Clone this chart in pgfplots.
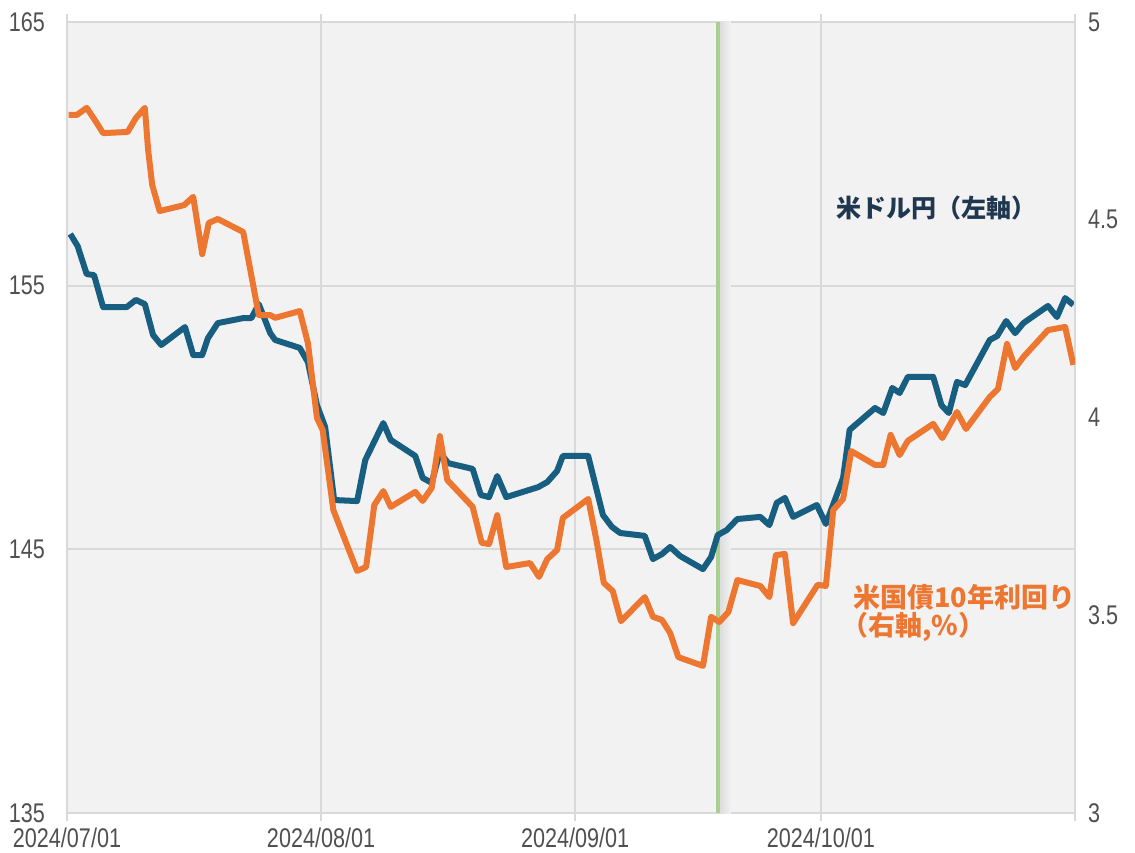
\documentclass[border=0pt]{standalone}
\usepackage{fontspec}
\setmainfont{Liberation Sans}
\newfontfamily\tickfont[FakeStretch=0.8]{Liberation Sans}
\newfontfamily\jpfont{Noto Sans CJK JP}
\usepackage{pgfplots}
\pgfplotsset{compat=1.18}

\definecolor{usdjpy}{HTML}{175E80}
\definecolor{ust}{HTML}{ED7631}
\definecolor{bg}{HTML}{F2F2F2}
\definecolor{gridc}{HTML}{D9D9D9}
\definecolor{tickc}{HTML}{505050}
\definecolor{fedgreen}{HTML}{A9D08E}
\definecolor{labblue}{HTML}{1F3850}
\definecolor{labgreen}{HTML}{70AD47}

% x = days since 2024/07/01
\pgfplotstableread{
d v
0.4 156.96
1.3 156.50
2.4 155.44
3.3 155.40
4.4 154.19
7.3 154.19
8.4 154.46
9.5 154.30
10.5 153.13
11.5 152.75
14.4 153.43
15.4 152.37
16.5 152.37
17.2 153.01
18.4 153.58
21.5 153.77
22.5 153.77
23.4 154.30
24.8 153.20
25.4 152.94
28.4 152.64
29.4 152.10
30.5 150.47
31.5 149.64
32.6 146.87
35.4 146.83
36.4 148.39
38.6 149.79
39.5 149.15
42.5 148.54
43.4 147.71
44.5 147.52
45.5 148.69
46.5 148.27
49.5 148.05
50.5 147.06
51.5 146.98
52.5 147.78
53.6 146.98
57.5 147.36
58.6 147.55
59.8 147.97
60.5 148.54
63.6 148.54
65.4 146.30
66.5 145.85
67.5 145.62
70.5 145.51
71.5 144.63
72.6 144.82
73.6 145.09
74.8 144.75
77.6 144.25
78.6 144.71
79.4 145.54
80.5 145.73
81.8 146.15
84.6 146.23
85.7 145.92
86.6 146.76
87.6 146.95
88.6 146.23
91.5 146.68
92.6 145.96
93.7 146.87
94.7 147.71
95.5 149.53
98.6 150.36
99.6 150.17
100.7 151.12
101.6 150.93
102.6 151.54
105.7 151.54
106.7 150.47
107.6 150.17
108.6 151.35
109.6 151.23
112.6 152.94
113.5 153.09
114.6 153.66
115.7 153.20
116.7 153.58
119.7 154.23
120.8 153.81
121.8 154.53
122.8 154.27
}\usdjpy

\pgfplotstableread{
d v
0.2 4.765
1.2 4.765
2.4 4.783
3.4 4.752
4.4 4.719
7.4 4.722
8.4 4.757
9.5 4.783
9.9 4.676
10.4 4.588
11.3 4.522
14.3 4.537
15.4 4.558
16.5 4.413
17.3 4.492
18.4 4.502
21.5 4.469
23.4 4.259
24.8 4.259
25.4 4.252
28.4 4.269
29.4 4.188
30.5 3.999
31.2 3.968
32.5 3.766
35.4 3.612
36.5 3.622
37.5 3.779
38.6 3.814
39.5 3.774
42.5 3.812
43.4 3.789
44.5 3.822
45.5 3.953
46.4 3.842
49.5 3.774
50.6 3.683
51.5 3.680
52.5 3.753
53.6 3.622
56.5 3.632
57.6 3.597
58.6 3.642
59.8 3.665
60.5 3.746
63.6 3.794
64.6 3.690
65.5 3.582
66.6 3.561
67.6 3.485
70.5 3.546
71.5 3.496
72.6 3.488
73.6 3.455
74.6 3.394
77.6 3.372
78.6 3.496
79.6 3.483
80.7 3.508
81.8 3.589
84.6 3.574
85.7 3.546
86.5 3.652
87.6 3.655
88.6 3.480
91.6 3.577
92.6 3.574
93.5 3.766
94.7 3.794
95.7 3.915
98.6 3.880
99.6 3.880
100.5 3.956
101.6 3.905
102.6 3.941
105.7 3.984
106.8 3.948
108.6 4.014
109.7 3.971
112.6 4.052
113.6 4.072
114.7 4.186
115.7 4.125
116.7 4.153
119.7 4.221
121.8 4.229
122.8 4.133
}\ustyield

\begin{document}
\begin{tikzpicture}
\pgfplotsset{
  base/.style={
    width=1008pt, height=791pt, scale only axis,
    xmin=0, xmax=123,
    /pgf/number format/assume math mode=true,
    tick label style={font=\tickfont\fontsize{27}{28}\selectfont, text=tickc},
    axis line style={draw=gridc, line width=1.5pt},
    tick align=outside, major tick length=8pt,
    y tick style={draw=none},
  }
}
\begin{axis}[base,
  ymin=135, ymax=165, ytick={135,145,155,165},
  axis background/.style={fill=bg},
  xtick={0,31,62,92,123},
  xticklabels={2024/07/01,2024/08/01,2024/09/01,2024/10/01,{}},
  grid=major, grid style={draw=gridc, line width=1.8pt},
  x tick style={draw=gridc, line width=1.5pt},
  yticklabel style={inner sep=0pt, xshift=-14pt},
  xticklabel style={inner sep=0pt, yshift=-7pt},
]
\fill[left color=black!14, right color=bg] (axis cs:79.6,135) rectangle (axis cs:81,165);
\draw[fedgreen, line width=4pt] (axis cs:79.4,135) -- (axis cs:79.4,165);
\addplot[usdjpy, line width=6pt, line join=round] table[x=d, y=v] {\usdjpy};
\node[anchor=west, text=labblue, font=\jpfont\bfseries\fontsize{25}{30}\selectfont] at (axis cs:93.5,157.95) {米ドル円（左軸）};
\node[anchor=west, text=ust, font=\jpfont\bfseries\fontsize{27}{30}\selectfont] at (axis cs:95.5,143.19) {米国債10年利回り};
\node[anchor=west, text=ust, font=\jpfont\bfseries\fontsize{27}{30}\selectfont, xshift=-12pt] at (axis cs:95.5,142.05) {（右軸,\%）};
\node[overlay, anchor=base, text=labgreen, font=\jpfont\bfseries\fontsize{28}{30}\selectfont] at ([yshift=18pt]axis cs:83.5,165) {FRBの利下げ開始};
\end{axis}
\begin{axis}[base,
  ymin=3, ymax=5, ytick={3,3.5,4,4.5,5},
  axis y line*=right, axis x line=none,
  yticklabel style={inner sep=0pt, xshift=5pt},
]
\addplot[ust, line width=6pt, line join=round] table[x=d, y=v] {\ustyield};
\end{axis}
\pgfresetboundingbox
\path[use as bounding box] (-67pt,-39pt) rectangle (1068pt,813pt);
\end{tikzpicture}
\end{document}
